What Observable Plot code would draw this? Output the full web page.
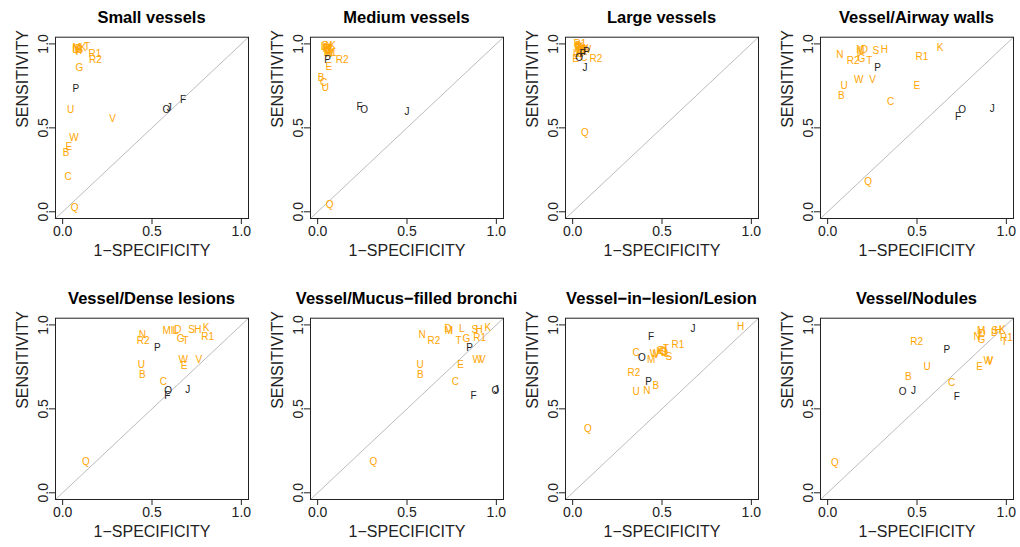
<!DOCTYPE html>
<html>
<head>
<meta charset="utf-8">
<script src="https://cdn.jsdelivr.net/npm/d3@7"></script>
<script src="https://cdn.jsdelivr.net/npm/@observablehq/plot@0.6"></script>
<style>
  html, body { margin: 0; padding: 0; background: #fff; }
  body { width: 1020px; height: 547px; overflow: hidden; font-family: "Liberation Sans", Arial, sans-serif; }
  #grid { position: relative; width: 1020px; height: 547px; }
  .panel { position: absolute; width: 255px; height: 266px; }
  .title { position: absolute; left: 55px; width: 193px; top: 7px; height: 20px; line-height: 20px;
           display: flex; justify-content: center; white-space: nowrap;
           font-weight: bold; font-size: 16.5px; color: #000; }
  .panel svg { position: absolute; left: 0; top: 30px; overflow: visible; }
</style>
</head>
<body>
<div id="grid"></div>
<script>
// ---- data ----
const codes = ["B","C","D","E","F","G","H","I","J","K","L","M","N","O","P","Q","R1","R2","S","T","U","V","W"];
const blackCodes = ["F","J","O","P"];
const titles = ["Small vessels","Medium vessels","Large vessels","Vessel/Airway walls",
                "Vessel/Dense lesions","Vessel/Mucus\u2212filled bronchi","Vessel\u2212in\u2212lesion/Lesion","Vessel/Nodules"];
const xTitle = "1\u2212SPECIFICITY";
const yTitle = "SENSITIVITY";
const tickValues = [0, 0.5, 1];
const axisDomain = [-0.04, 1.04];

// 1-specificity (x) and sensitivity (y), in the order of `codes`
const smallX  = [0.019,0.031,0.089,0.035,0.674,0.093,0.089,0.081,0.596,0.115,0.070,0.078,0.074,0.580,0.074,0.067,0.180,0.183,0.096,0.137,0.044,0.280,0.063];
const smallY  = [0.354,0.206,0.970,0.390,0.670,0.860,0.960,0.954,0.620,0.976,0.964,0.976,0.970,0.606,0.734,0.026,0.940,0.906,0.966,0.984,0.606,0.556,0.440];

const mediumX = [0.019,0.033,0.044,0.063,0.235,0.059,0.063,0.041,0.500,0.083,0.033,0.050,0.056,0.260,0.056,0.067,0.070,0.137,0.067,0.052,0.043,0.074,0.063];
const mediumY = [0.796,0.766,0.990,0.866,0.626,0.960,0.986,0.974,0.596,0.990,0.980,0.970,0.974,0.610,0.904,0.040,0.950,0.906,0.966,0.954,0.736,0.946,0.940];

const largeX  = [0.031,0.063,0.035,0.017,0.056,0.044,0.031,0.028,0.069,0.044,0.041,0.050,0.037,0.037,0.078,0.069,0.040,0.130,0.063,0.050,0.022,0.069,0.078];
const largeY  = [0.990,0.920,0.980,0.914,0.940,0.940,0.970,0.960,0.860,0.980,0.964,0.970,0.950,0.916,0.954,0.470,1.000,0.914,0.966,0.954,0.940,0.970,0.964];

const airwayX = [0.077,0.352,0.206,0.499,0.730,0.189,0.317,0.171,0.921,0.629,0.189,0.183,0.068,0.752,0.279,0.226,0.527,0.143,0.270,0.233,0.092,0.251,0.174];
const airwayY = [0.693,0.653,0.966,0.749,0.568,0.910,0.964,0.950,0.614,0.974,0.960,0.966,0.935,0.608,0.857,0.178,0.921,0.897,0.960,0.897,0.752,0.786,0.786];

const denseX  = [0.446,0.563,0.645,0.680,0.585,0.660,0.756,0.613,0.700,0.803,0.632,0.582,0.446,0.591,0.530,0.130,0.812,0.450,0.721,0.688,0.440,0.762,0.675];
const denseY  = [0.700,0.660,0.972,0.756,0.576,0.920,0.972,0.966,0.616,0.980,0.966,0.966,0.942,0.610,0.862,0.182,0.930,0.906,0.970,0.906,0.760,0.792,0.792];

const mucusX  = [0.574,0.770,0.729,0.800,0.873,0.832,0.903,0.748,1.000,0.953,0.807,0.735,0.585,0.994,0.850,0.312,0.907,0.650,0.879,0.789,0.574,0.921,0.893];
const mucusY  = [0.700,0.660,0.976,0.760,0.576,0.920,0.972,0.966,0.616,0.980,0.976,0.964,0.940,0.610,0.866,0.182,0.926,0.906,0.972,0.906,0.760,0.790,0.790];

const lesionX = [0.466,0.355,0.514,0.495,0.439,0.508,0.940,0.519,0.673,0.486,0.527,0.439,0.415,0.387,0.425,0.085,0.589,0.343,0.538,0.523,0.355,0.467,0.458];
const lesionY = [0.636,0.836,0.832,0.846,0.930,0.840,0.986,0.852,0.976,0.840,0.826,0.792,0.606,0.806,0.662,0.380,0.882,0.716,0.810,0.860,0.600,0.822,0.826];

const noduleX = [0.452,0.694,0.865,0.850,0.722,0.861,0.952,0.848,0.480,0.978,0.930,0.859,0.837,0.420,0.667,0.041,1.000,0.498,0.935,0.989,0.556,0.907,0.898];
const noduleY = [0.693,0.653,0.950,0.752,0.570,0.911,0.966,0.943,0.606,0.970,0.956,0.962,0.931,0.600,0.851,0.180,0.921,0.897,0.962,0.897,0.752,0.782,0.788];

const panelX = [smallX, mediumX, largeX, airwayX, denseX, mucusX, lesionX, noduleX];
const panelY = [smallY, mediumY, largeY, airwayY, denseY, mucusY, lesionY, noduleY];

// ---- drawing ----
const orange = "#FFA500";
const dark = "#222";
const grid = document.getElementById("grid");
const fmt = d3.format(".1f");
const rowTops = [0, 280.5];

titles.forEach((title, i) => {
  const row = Math.floor(i / 4), col = i % 4;
  const rows = codes.map((c, k) => ({code: c, x: panelX[i][k], y: panelY[i][k]}));
  const panel = document.createElement("div");
  panel.className = "panel";
  panel.style.left = (col * 255) + "px";
  panel.style.top = rowTops[row] + "px";
  const t = document.createElement("div");
  t.className = "title";
  t.textContent = title;
  panel.appendChild(t);

  const svg = Plot.plot({
    width: 255,
    height: 236,
    marginTop: 6.7,
    marginBottom: 48,
    marginLeft: 55,
    marginRight: 7,
    x: {domain: axisDomain},
    y: {domain: axisDomain},
    style: {fontFamily: "'Liberation Sans', Arial, sans-serif", color: dark, background: "transparent"},
    marks: [
      Plot.line(axisDomain, {x: d => d, y: d => d, stroke: "#aaaaaa", strokeWidth: 0.8}),
      Plot.frame({stroke: dark, strokeWidth: 1}),
      Plot.axisX({ticks: tickValues, tickFormat: fmt, tickSize: 6, tickPadding: 1.5, fontSize: 14, label: null}),
      Plot.axisY({ticks: tickValues, tickFormat: fmt, tickSize: 6, tickPadding: 1.5, tickRotate: -90, fontSize: 14, label: null}),
      Plot.text([xTitle], {frameAnchor: "bottom", dy: 37, text: d => d, fontSize: 16, fill: dark}),
      Plot.text([yTitle], {frameAnchor: "left", dx: -33, rotate: -90, text: d => d, fontSize: 16, fill: dark}),
      Plot.text(rows.filter(d => !blackCodes.includes(d.code)), {x: "x", y: "y", text: "code", fill: orange, fontSize: 10}),
      Plot.text(rows.filter(d => blackCodes.includes(d.code)), {x: "x", y: "y", text: "code", fill: dark, fontSize: 10})
    ]
  });
  panel.appendChild(svg);
  grid.appendChild(panel);
});
</script>
</body>
</html>
